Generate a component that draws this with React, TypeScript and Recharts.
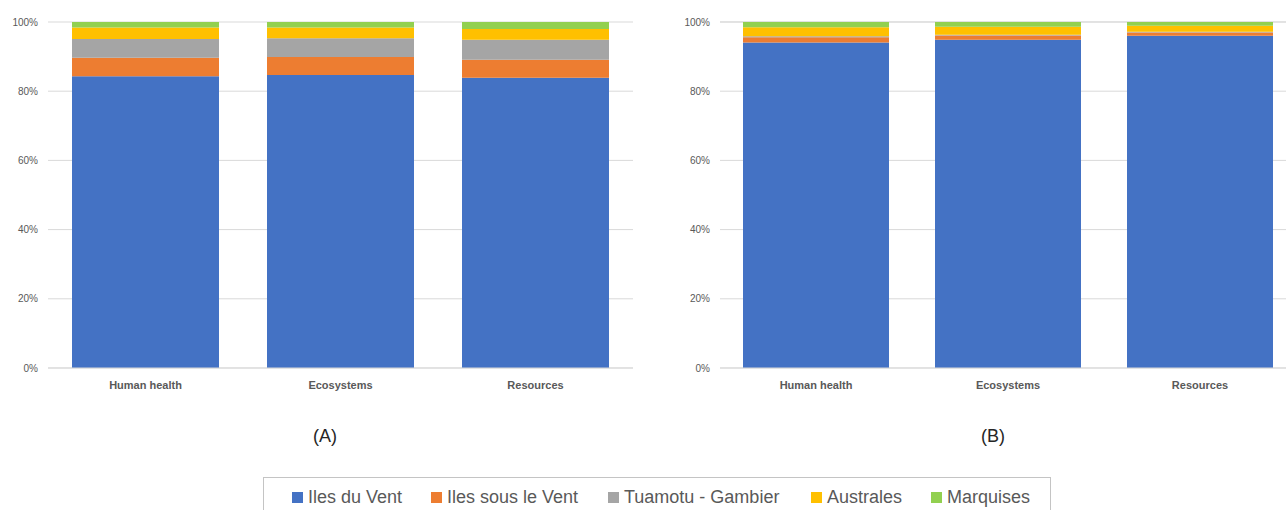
import { BarChart, Bar, XAxis, YAxis, CartesianGrid } from "recharts";

const categories = ["Human health", "Ecosystems", "Resources"];

// (A) shares in %
const ilesDuVentA = [84.3, 84.7, 83.9];
const ilesSousLeVentA = [5.4, 5.2, 5.2];
const tuamotuA = [5.4, 5.4, 5.8];
const australesA = [3.3, 3.1, 3.1];
const marquisesA = [1.6, 1.6, 2.0];

// (B) shares in %
const ilesDuVentB = [94.1, 94.9, 96.0];
const ilesSousLeVentB = [1.5, 1.2, 1.0];
const tuamotuB = [0.3, 0.2, 0.2];
const australesB = [2.6, 2.3, 1.7];
const marquisesB = [1.5, 1.4, 1.1];

const yTicks = [0, 20, 40, 60, 80, 100];

const SERIES = [
  { key: "ilesDuVent", name: "Iles du Vent", color: "#4472C4" },
  { key: "ilesSousLeVent", name: "Iles sous le Vent", color: "#ED7D31" },
  { key: "tuamotu", name: "Tuamotu - Gambier", color: "#A5A5A5" },
  { key: "australes", name: "Australes", color: "#FFC000" },
  { key: "marquises", name: "Marquises", color: "#92D050" },
];

const buildRows = (cols: number[][]) =>
  categories.map((name, i) => ({
    name,
    ilesDuVent: cols[0][i],
    ilesSousLeVent: cols[1][i],
    tuamotu: cols[2][i],
    australes: cols[3][i],
    marquises: cols[4][i],
  }));

const dataA = buildRows([ilesDuVentA, ilesSousLeVentA, tuamotuA, australesA, marquisesA]);
const dataB = buildRows([ilesDuVentB, ilesSousLeVentB, tuamotuB, australesB, marquisesB]);

const FONT = "'Liberation Sans', Arial, sans-serif";
const GRID = "#d9d9d9";
const TEXT = "#595959";

function Panel({ data, right, barSize }: { data: any[]; right: number; barSize: number }) {
  return (
    <BarChart
      width={640}
      height={400}
      data={data}
      margin={{ top: 22, right, bottom: 0, left: 0 }}
      barSize={barSize}
    >
      <CartesianGrid vertical={false} stroke={GRID} strokeWidth={1} />
      <XAxis
        dataKey="name"
        height={32}
        tickLine={false}
        tickSize={6}
        tickMargin={7}
        axisLine={{ stroke: GRID }}
        tick={{ fontSize: 11, fontWeight: 700, fill: TEXT, fontFamily: FONT }}
      />
      <YAxis
        width={48}
        domain={[0, 100]}
        ticks={yTicks}
        tickFormatter={(v) => `${v}%`}
        axisLine={false}
        tickLine={false}
        tickSize={6}
        tickMargin={4}
        tick={{ fontSize: 10, fill: TEXT, fontFamily: FONT }}
      />
      {SERIES.map((s) => (
        <Bar
          key={s.key}
          dataKey={s.key}
          name={s.name}
          stackId="a"
          fill={s.color}
          isAnimationActive={false}
        />
      ))}
    </BarChart>
  );
}

const legendPos = [292, 431, 608, 811, 931];

export default function App() {
  return (
    <div
      style={{
        position: "fixed",
        left: 0,
        top: 0,
        width: 1286,
        height: 510,
        overflow: "hidden",
        background: "#fff",
        fontFamily: FONT,
      }}
    >
      <div style={{ position: "absolute", left: 0, top: 0 }}>
        <Panel data={dataA} right={7} barSize={147} />
      </div>
      <div style={{ position: "absolute", left: 672, top: 0 }}>
        <Panel data={dataB} right={16} barSize={146} />
      </div>

      <div style={{ position: "absolute", left: 305, top: 426, width: 40, textAlign: "center", fontSize: 18, color: "#262626" }}>
        (A)
      </div>
      <div style={{ position: "absolute", left: 973, top: 426, width: 40, textAlign: "center", fontSize: 18, color: "#262626" }}>
        (B)
      </div>

      <div
        style={{
          position: "absolute",
          left: 263,
          top: 477,
          width: 788,
          height: 60,
          border: "1px solid #c4c4c4",
          boxSizing: "border-box",
        }}
      />
      {SERIES.map((s, i) => (
        <div
          key={s.key}
          style={{
            position: "absolute",
            left: legendPos[i],
            top: 486,
            height: 22,
            display: "flex",
            alignItems: "center",
            gap: 5,
            fontSize: 18,
            color: TEXT,
            whiteSpace: "nowrap",
          }}
        >
          <span style={{ width: 11, height: 11, background: s.color, display: "inline-block" }} />
          <span>{s.name}</span>
        </div>
      ))}
    </div>
  );
}
